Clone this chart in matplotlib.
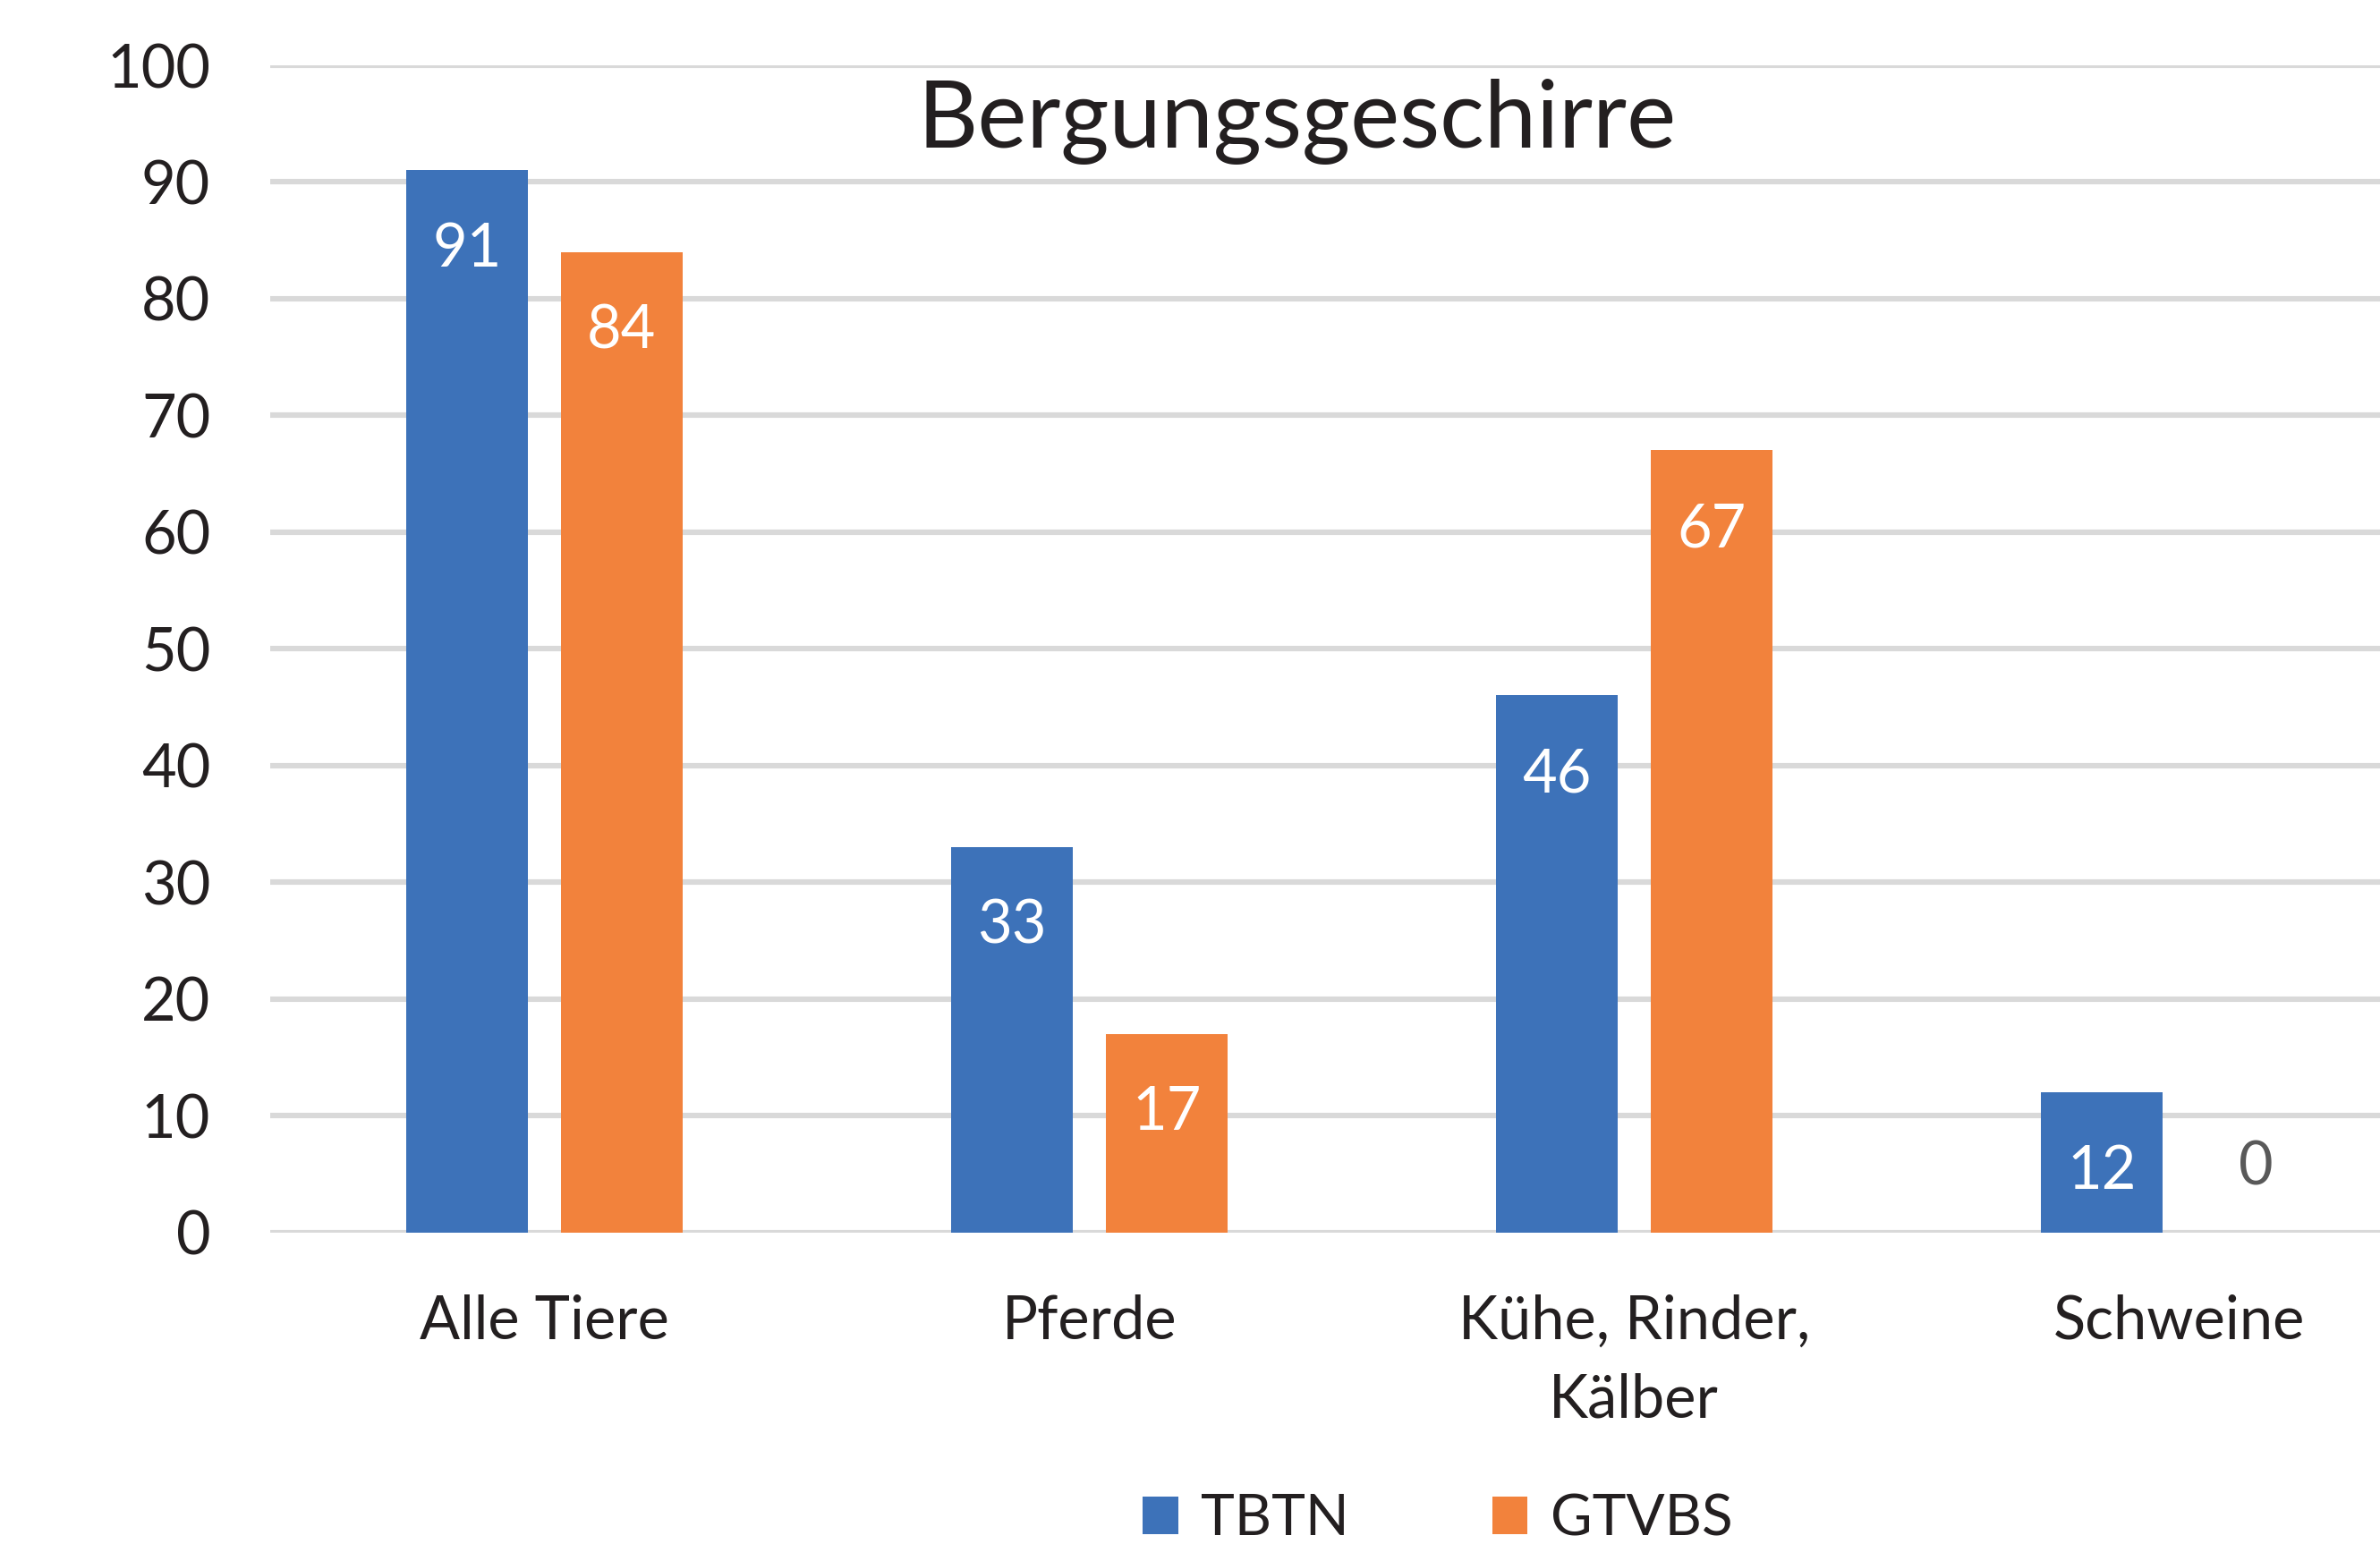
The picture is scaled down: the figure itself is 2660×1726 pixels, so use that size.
"""
Grouped bar chart: Bergungsgeschirre (TBTN vs. GTVBS).
"""

import matplotlib.pyplot as plt
import numpy as np

# Data
CATEGORIES = ["Alle Tiere", "Pferde", "Kühe, Rinder,\nKälber", "Schweine"]
SERIES = ["TBTN", "GTVBS"]
TBTN = [91, 33, 46, 12]
GTVBS = [84, 17, 67, 0]
Y_TICKS = [0, 10, 20, 30, 40, 50, 60, 70, 80, 90, 100]

# Style
BLUE = "#3D72B9"
ORANGE = "#F2823C"
GRID = "#D9D9D9"
TEXT = "#231F20"
FONT = ["Lato", "DejaVu Sans"]

plt.rcParams["font.family"] = FONT


def main():
    fig = plt.figure(figsize=(13.3, 8.63), dpi=200)
    ax = fig.add_axes([0.1135, 0.2019, 0.9165, 0.7558])

    x = np.arange(len(CATEGORIES))
    width = 0.223
    offset = 0.142

    bars_b = ax.bar(x - offset, TBTN, width, color=BLUE, label=SERIES[0], zorder=3)
    bars_o = ax.bar(x + offset, GTVBS, width, color=ORANGE, label=SERIES[1], zorder=3)

    for bars, vals in ((bars_b, TBTN), (bars_o, GTVBS)):
        for b, v in zip(bars, vals):
            cx = b.get_x() + b.get_width() / 2
            if v > 0:
                ax.text(cx, v - 6.8, str(v), ha="center", va="center",
                        color="white", fontsize=24, zorder=4)
            else:
                ax.text(cx, 5.5, str(v), ha="center", va="center",
                        color="#595959", fontsize=24, zorder=4)

    ax.set_xlim(-0.503, 3.5)
    ax.set_ylim(0, 100)
    ax.set_yticks(Y_TICKS)
    ax.set_xticks(x)
    ax.set_xticklabels(CATEGORIES, linespacing=1.52)
    ax.tick_params(axis="y", length=0, pad=24, labelsize=24, labelcolor=TEXT)
    ax.tick_params(axis="x", length=0, pad=25, labelsize=24, labelcolor=TEXT)
    ax.yaxis.grid(True, color=GRID, linewidth=2.2, zorder=0)
    ax.set_axisbelow(True)
    for s in ax.spines.values():
        s.set_visible(False)

    fig.text(0.545, 0.921, "Bergungsgeschirre", ha="center", va="center",
             fontsize=37.5, color=TEXT)

    fig.legend(handles=[bars_b, bars_o], labels=SERIES, loc="center",
               bbox_to_anchor=(0.604, 0.016), ncol=2, frameon=False,
               fontsize=23, handlelength=0.62, handleheight=0.62,
               handletextpad=0.4, columnspacing=2.5, labelcolor=TEXT)

    fig.savefig("out.png", dpi=200)
    plt.close(fig)


if __name__ == "__main__":
    main()
